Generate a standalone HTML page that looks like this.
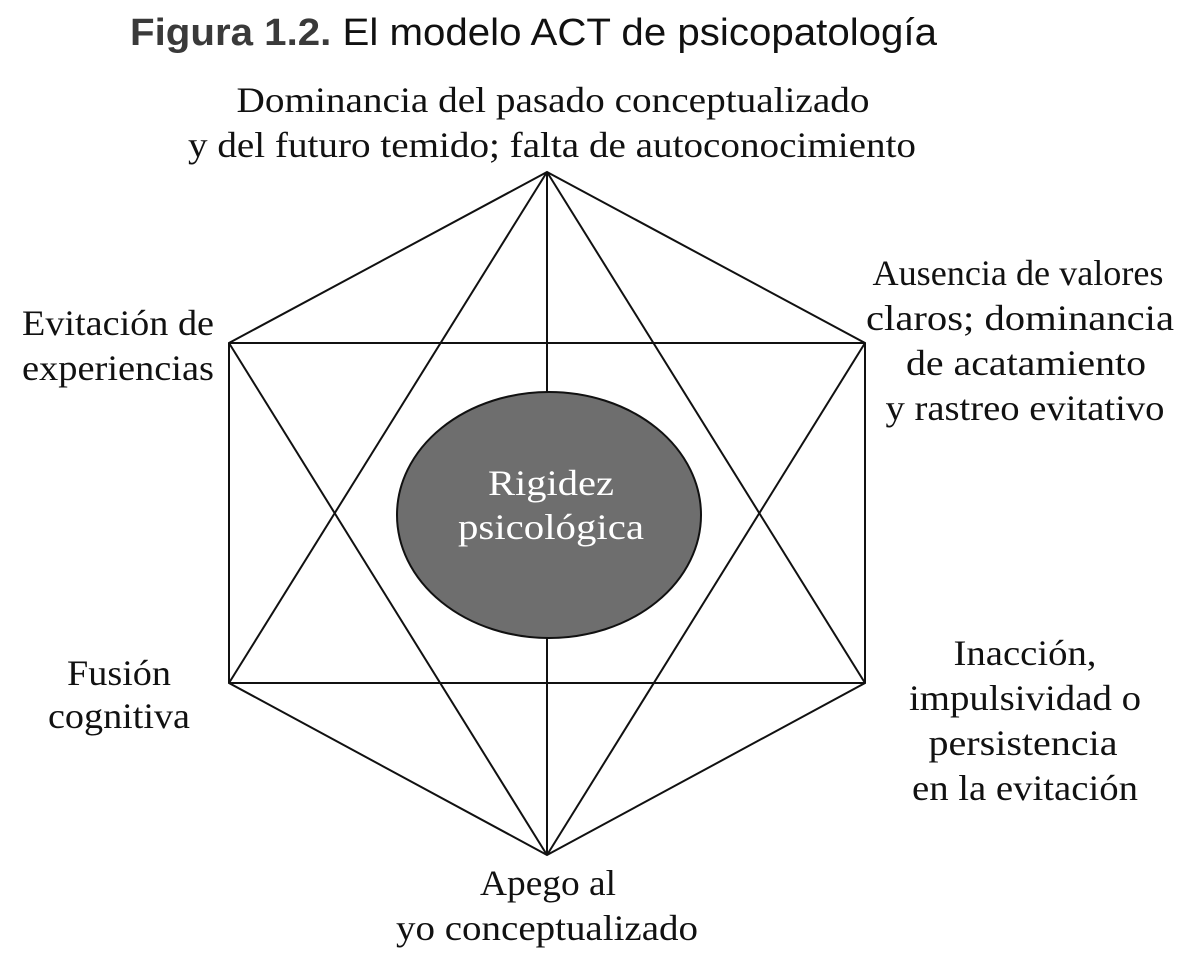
<!DOCTYPE html>
<html><head><meta charset="utf-8"><style>
html,body{margin:0;padding:0;background:#fff;}
svg{display:block;}
.s{font-family:"Liberation Serif",serif;font-size:36px;fill:#111;}
</style></head><body>
<svg width="1200" height="970" viewBox="0 0 1200 970" xmlns="http://www.w3.org/2000/svg">
<text x="130" y="45" font-family="Liberation Sans, sans-serif" font-size="38" textLength="807" lengthAdjust="spacingAndGlyphs"><tspan font-weight="bold" fill="#3a3a3a">Figura 1.2.</tspan><tspan fill="#111"> El modelo ACT de psicopatología</tspan></text>
<g stroke="#111" stroke-width="2" fill="none">
<polygon points="547,172 865,343 865,683 547,855 229,683 229,343"/>
<line x1="229" y1="343" x2="865" y2="343"/>
<line x1="229" y1="683" x2="865" y2="683"/>
<line x1="547" y1="172" x2="229" y2="683"/>
<line x1="547" y1="172" x2="865" y2="683"/>
<line x1="547" y1="855" x2="229" y2="343"/>
<line x1="547" y1="855" x2="865" y2="343"/>
<line x1="547" y1="172" x2="547" y2="855"/>
</g>
<ellipse cx="549" cy="515" rx="152" ry="123" fill="#6e6e6e" stroke="#111" stroke-width="2"/>
<g class="s" text-anchor="middle" lengthAdjust="spacingAndGlyphs">
<text x="551" y="495" style="fill:#fff" textLength="126" lengthAdjust="spacingAndGlyphs">Rigidez</text>
<text x="551" y="539" style="fill:#fff" textLength="186" lengthAdjust="spacingAndGlyphs">psicológica</text>
<text x="553" y="112" textLength="633" lengthAdjust="spacingAndGlyphs">Dominancia del pasado conceptualizado</text>
<text x="552" y="157" textLength="728" lengthAdjust="spacingAndGlyphs">y del futuro temido; falta de autoconocimiento</text>
<text x="1018" y="285" textLength="291" lengthAdjust="spacingAndGlyphs">Ausencia de valores</text>
<text x="1020" y="330" textLength="308" lengthAdjust="spacingAndGlyphs">claros; dominancia</text>
<text x="1026" y="375" textLength="240" lengthAdjust="spacingAndGlyphs">de acatamiento</text>
<text x="1025" y="420" textLength="279" lengthAdjust="spacingAndGlyphs">y rastreo evitativo</text>
<text x="119" y="685" textLength="104" lengthAdjust="spacingAndGlyphs">Fusión</text>
<text x="119" y="728" textLength="142" lengthAdjust="spacingAndGlyphs">cognitiva</text>
<text x="1025" y="665" textLength="143" lengthAdjust="spacingAndGlyphs">Inacción,</text>
<text x="1025" y="710" textLength="232" lengthAdjust="spacingAndGlyphs">impulsividad o</text>
<text x="1023" y="755" textLength="189" lengthAdjust="spacingAndGlyphs">persistencia</text>
<text x="1025" y="800" textLength="226" lengthAdjust="spacingAndGlyphs">en la evitación</text>
<text x="548" y="895" textLength="136" lengthAdjust="spacingAndGlyphs">Apego al</text>
<text x="547" y="940" textLength="302" lengthAdjust="spacingAndGlyphs">yo conceptualizado</text>
<text x="118" y="335" textLength="192" lengthAdjust="spacingAndGlyphs">Evitación de</text>
<text x="118" y="380" textLength="192" lengthAdjust="spacingAndGlyphs">experiencias</text>
</g>
</svg>
</body></html>
